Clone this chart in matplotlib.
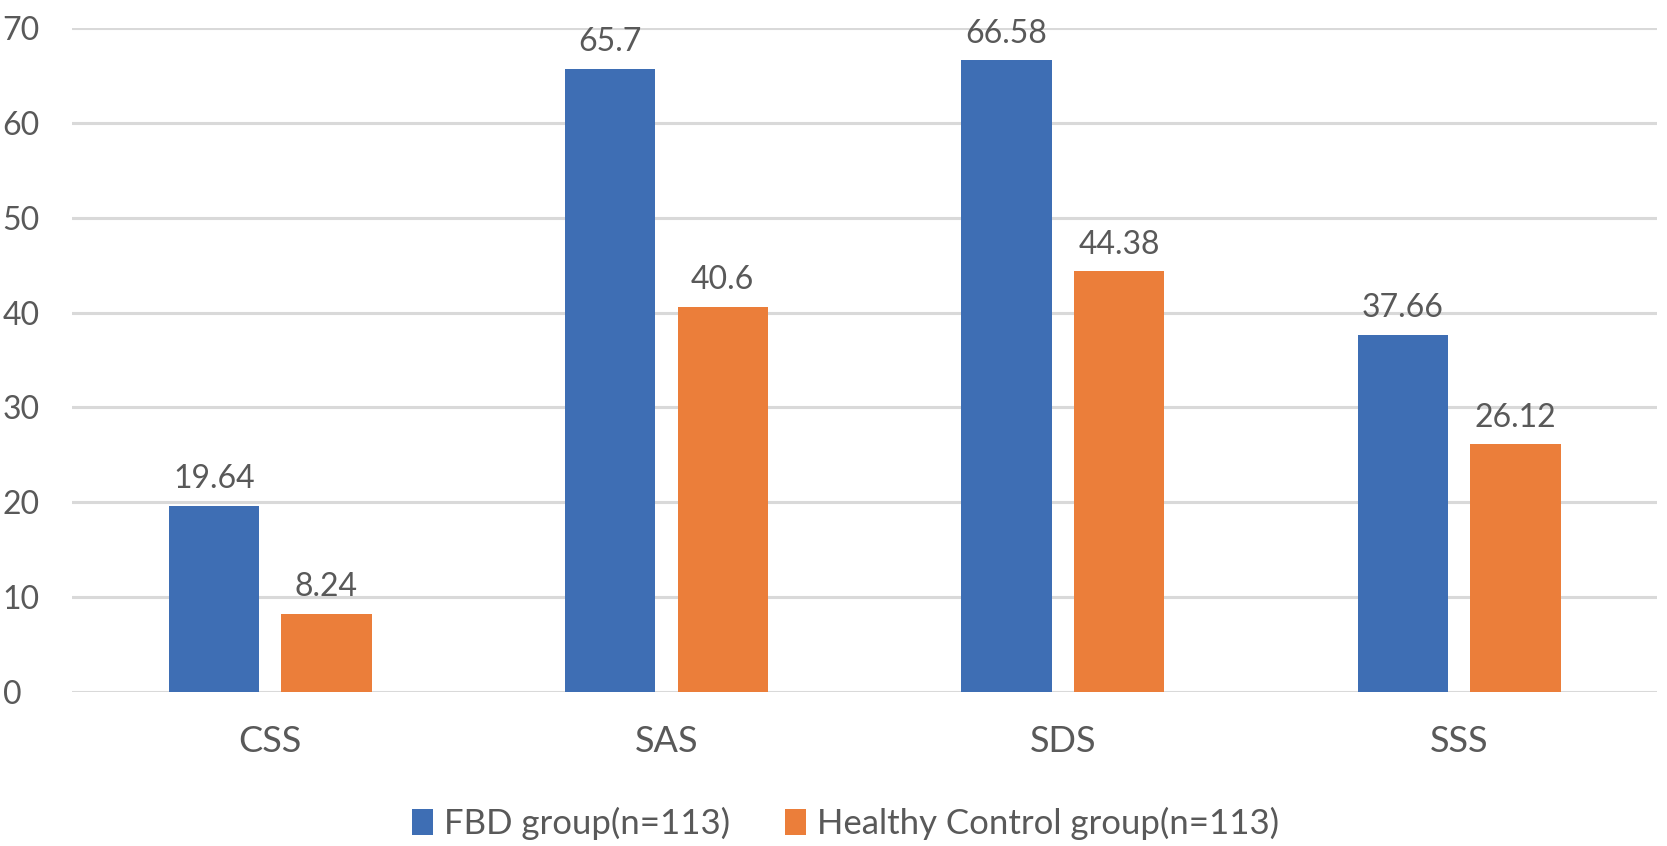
import numpy as np
import matplotlib.pyplot as plt

categories = ['CSS', 'SAS', 'SDS', 'SSS']
fbd = [19.64, 65.7, 66.58, 37.66]
healthy = [8.24, 40.6, 44.38, 26.12]
labels = ['FBD group(n=113)', 'Healthy Control group(n=113)']

plt.rcParams['font.family'] = ['Lato', 'DejaVu Sans']
grey = '#595959'

fig = plt.figure(figsize=(16.67, 8.46), dpi=100)
ax = fig.add_axes([0.0432, 0.182, 0.951, 0.785])

x = np.arange(len(categories))
w = 0.228
off = 0.142
b1 = ax.bar(x - off, fbd, w, color='#3E6EB4', label=labels[0], zorder=3)
b2 = ax.bar(x + off, healthy, w, color='#EB7E3A', label=labels[1], zorder=3)

for bars, vals in ((b1, fbd), (b2, healthy)):
    for r, v in zip(bars, vals):
        ax.annotate(f'{v:g}', (r.get_x() + r.get_width() / 2, v), xytext=(0, 19),
                    textcoords='offset points', ha='center', va='center',
                    fontsize=23, color=grey)

ax.set_xlim(-0.5, 3.5)
ax.set_ylim(0, 70)
ax.set_yticks(range(0, 71, 10))
ax.yaxis.grid(True, color='#D9D9D9', linewidth=2.2, zorder=0)
for s in ax.spines.values():
    s.set_visible(False)
ax.tick_params(axis='both', length=0, labelsize=23, labelcolor=grey)
ax.tick_params(axis='y', pad=50)
ax.tick_params(axis='x', pad=24)
ax.set_xticks(x)
ax.set_xticklabels(categories, fontsize=26)
for t in ax.get_yticklabels():
    t.set_horizontalalignment('left')

ax.legend(loc='center', bbox_to_anchor=(0.488, -0.198), ncol=2, frameon=False,
          fontsize=25, labelcolor=grey, handlelength=0.6, handleheight=0.8,
          columnspacing=1.6, handletextpad=0.3)

fig.savefig('out.png', dpi=100)
